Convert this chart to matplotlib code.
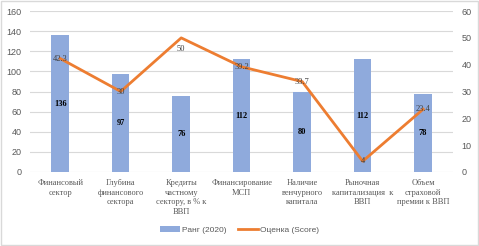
import matplotlib.pyplot as plt
import numpy as np
from matplotlib.patches import Rectangle

categories = ["Финансовый\nсектор", "Глубина\nфинансового\nсектора",
              "Кредиты\nчастному\nсектору, в % к\nВВП", "Финансирование\nМСП",
              "Наличие\nвенчурного\nкапитала", "Рыночная\nкапитализация  к\nВВП",
              "Объем\nстраховой\nпремии к ВВП"]
rank = [136, 97, 76, 112, 80, 112, 78]
score = [42.3, 30, 50, 39.2, 33.7, 4, 23.4]

bar_color = "#8FAADC"
line_color = "#ED7D31"
grey = "#595959"

fig = plt.figure(figsize=(4.79, 2.46), dpi=100)
ax = fig.add_axes([0.0626, 0.301, 0.884, 0.654])
ax2 = ax.twinx()

x = np.arange(len(categories))
ax.bar(x, rank, width=0.29, color=bar_color, label="Ранг (2020)", zorder=2)
for xi, v in zip(x, rank):
    ax.text(xi, v / 2, str(v), ha="center", va="center", fontsize=6,
            fontweight="bold", family="Liberation Serif", color="black", zorder=3)

ax2.plot(x, score, color=line_color, lw=2, label="Оценка (Score)", zorder=3)
for xi, v in zip(x, score):
    lbl = ("%g" % v)
    dy = -8 if v == 50 else 0
    ax2.annotate(lbl, (xi, v), xytext=(0, dy), textcoords="offset points",
                 ha="center", va="center", fontsize=6, family="Liberation Serif",
                 color="#404040")

ax.set_xlim(-0.5, len(categories) - 0.5)
ax.set_ylim(0, 160)
ax.set_yticks(np.arange(0, 161, 20))
ax2.set_ylim(0, 60)
ax2.set_yticks(np.arange(0, 61, 10))
ax.set_xticks(x)
ax.set_xticklabels(categories, family="Liberation Serif", fontsize=6,
                   color=grey, linespacing=1.3, va="top")
ax.tick_params(axis="x", length=0, pad=5)
for a in (ax, ax2):
    a.tick_params(axis="y", length=0, labelsize=6.5, labelcolor=grey, pad=6)
    for t in a.get_yticklabels():
        t.set_family("Liberation Sans")
    for s in a.spines.values():
        s.set_visible(False)
ax.grid(axis="y", color="#D9D9D9", lw=0.8, zorder=0)
ax.set_axisbelow(True)

h1, l1 = ax.get_legend_handles_labels()
h2, l2 = ax2.get_legend_handles_labels()
fig.legend(h1 + h2, l1 + l2, loc="center", bbox_to_anchor=(0.5, 0.065), ncol=2,
           frameon=False, prop={"family": "Liberation Sans", "size": 6},
           labelcolor=grey, handlelength=2.4, handleheight=0.7,
           columnspacing=1.4, handletextpad=0.2)

fig.patches.append(Rectangle((0.002, 0.004), 0.996, 0.992, transform=fig.transFigure,
                             fill=False, edgecolor="#D9D9D9", lw=1))
fig.savefig("out.png", dpi=100)
